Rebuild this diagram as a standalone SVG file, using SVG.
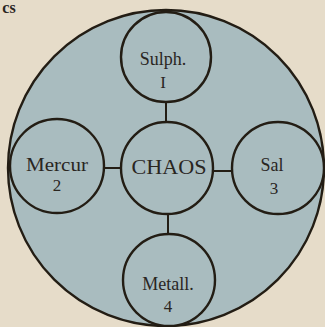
<svg xmlns="http://www.w3.org/2000/svg" width="325" height="327" viewBox="0 0 325 327">
<style>
.c{fill:#a9bcbf;stroke:#231d14;stroke-width:2.4}
.l{stroke:#231d14;stroke-width:2;fill:none}
text{font-family:"Liberation Serif","DejaVu Serif",serif;fill:#2a261f;text-anchor:middle}
.t{font-size:18px}
.n{font-size:17px}
</style>
<rect width="325" height="327" fill="#e6dcc9"/>
<text x="9" y="13" style="font-size:16px" font-weight="bold">cs</text>
<g id="outer"><circle class="c" cx="166" cy="168" r="158"/></g>
<g id="connectors">
<line class="l" x1="166" y1="101" x2="166" y2="123"/>
<line class="l" x1="104" y1="168" x2="121" y2="168"/>
<line class="l" x1="213" y1="171" x2="233" y2="171"/>
<line class="l" x1="168" y1="213" x2="168" y2="234"/>
</g>
<g id="sulph"><circle class="c" cx="166" cy="57" r="45"/><text class="t" x="163" y="65">Sulph.</text><text class="n" x="163" y="88">I</text></g>
<g id="chaos"><circle class="c" cx="167" cy="168" r="46"/><text x="169" y="174" style="font-size:20px" textLength="75" lengthAdjust="spacingAndGlyphs">CHAOS</text></g>
<g id="mercur"><circle class="c" cx="57" cy="166" r="47"/><text class="t" x="57" y="171" textLength="62" lengthAdjust="spacingAndGlyphs">Mercur</text><text class="n" x="57" y="191">2</text></g>
<g id="sal"><circle class="c" cx="278" cy="168" r="46"/><text class="t" x="272" y="171">Sal</text><text class="n" x="274" y="194">3</text></g>
<g id="metall"><circle class="c" cx="169" cy="280" r="46"/><text class="t" x="168" y="290">Metall.</text><text class="n" x="168" y="312">4</text></g>
</svg>
